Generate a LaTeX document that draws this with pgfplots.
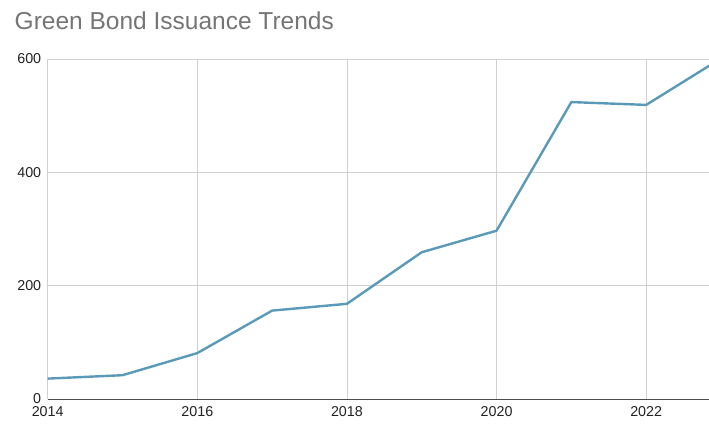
\documentclass[border=0pt]{standalone}
\usepackage{pgfplots}
\pgfplotsset{compat=1.18}
\usepackage{fontspec}
\setmainfont{Liberation Sans}
\definecolor{linec}{HTML}{5A9AB9}
\definecolor{gridc}{HTML}{D0D0D0}
\definecolor{titlec}{HTML}{757575}
\definecolor{tickc}{HTML}{222222}
\begin{document}
\begin{tikzpicture}[x=1pt,y=1pt]
\begin{axis}[
  name=ax,
  at={(0,0)}, anchor=south west,
  scale only axis,
  width=661.3pt, height=340pt,
  xmin=2014, xmax=2022.84,
  ymin=0, ymax=600,
  xtick={2014,2016,2018,2020,2022},
  ytick={0,200,400,600},
  xmajorgrids, ymajorgrids,
  grid style={gridc, line width=0.8pt},
  major tick length=0pt,
  axis x line*=bottom,
  axis y line*=left,
  y axis line style={draw=none},
  x axis line style={draw=black!70, line width=1pt, -},
  /pgf/number format/1000 sep={},
  /pgf/number format/assume math mode=true,
  ticklabel style={font=\fontsize{14.3}{16}\selectfont, text=tickc},
  yticklabel style={xshift=-3pt},
  xticklabel style={yshift=-4pt},
  clip=true,
]
\addplot[linec, line width=2.4pt, line join=round] coordinates {
(2014,36) (2015,42) (2016,81) (2017,156) (2018,168) (2019,259) (2020,297) (2021,524) (2022,519) (2023,601)
};
\end{axis}
\node[anchor=base west, text=titlec, font=\fontsize{24.5}{28}\selectfont, inner sep=0pt] at (-33.2pt, 369pt) {Green Bond Issuance Trends};
\pgfresetboundingbox
\path[use as bounding box] (-47.7pt,-25pt) rectangle (661.3pt,399pt);
\end{tikzpicture}
\end{document}
